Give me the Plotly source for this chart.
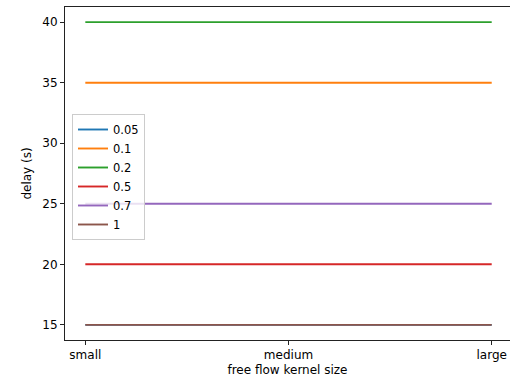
import plotly.graph_objects as go

categories = ["small", "medium", "large"]
series_names = ["0.05", "0.1", "0.2", "0.5", "0.7", "1"]
series_values = [
    [15, 15, 15],
    [35, 35, 35],
    [40, 40, 40],
    [20, 20, 20],
    [25, 25, 25],
    [15, 15, 15],
]
colors = ["#1f77b4", "#ff7f0e", "#2ca02c", "#d62728", "#9467bd", "#8c564b"]

fig = go.Figure()
for name, vals, c in zip(series_names, series_values, colors):
    fig.add_trace(go.Scatter(x=[0, 1, 2], y=vals, mode="lines", name=name,
                             line=dict(color=c, width=1.9)))

L, R, T, B = 65, 0, 7, 43
W, H = 510, 383
font = dict(family="DejaVu Sans", size=12, color="black")
fig.update_layout(
    width=W, height=H,
    margin=dict(l=L, r=R, t=T, b=B, pad=0),
    paper_bgcolor="white", plot_bgcolor="white",
    font=font,
    showlegend=True,
    legend=dict(x=(72 - L) / (W - L - R), y=(H - B - 114) / (H - B - T),
                xanchor="left", yanchor="top",
                bgcolor="rgba(255,255,255,0.8)", bordercolor="#cccccc", borderwidth=1,
                font=dict(family="DejaVu Sans", size=11.5, color="black"),
                tracegroupgap=0, itemwidth=30),
    xaxis=dict(range=[-0.1, 2.09], tickvals=[0, 1, 2], ticktext=categories,
               showgrid=False, zeroline=False, showline=True, linecolor="#222222", linewidth=1,
               mirror=True, ticks="outside", ticklen=4, tickcolor="#222222",
               title=dict(text="free flow kernel size", font=font, standoff=4)),
    yaxis=dict(range=[13.75, 41.25], tickvals=[15, 20, 25, 30, 35, 40],
               showgrid=False, zeroline=False, showline=True, linecolor="#222222", linewidth=1,
               mirror=False, ticks="outside", ticklen=4, tickcolor="#222222",
               title=dict(text="delay (s)", font=font, standoff=8)),
)
fig.write_html("out.html")
